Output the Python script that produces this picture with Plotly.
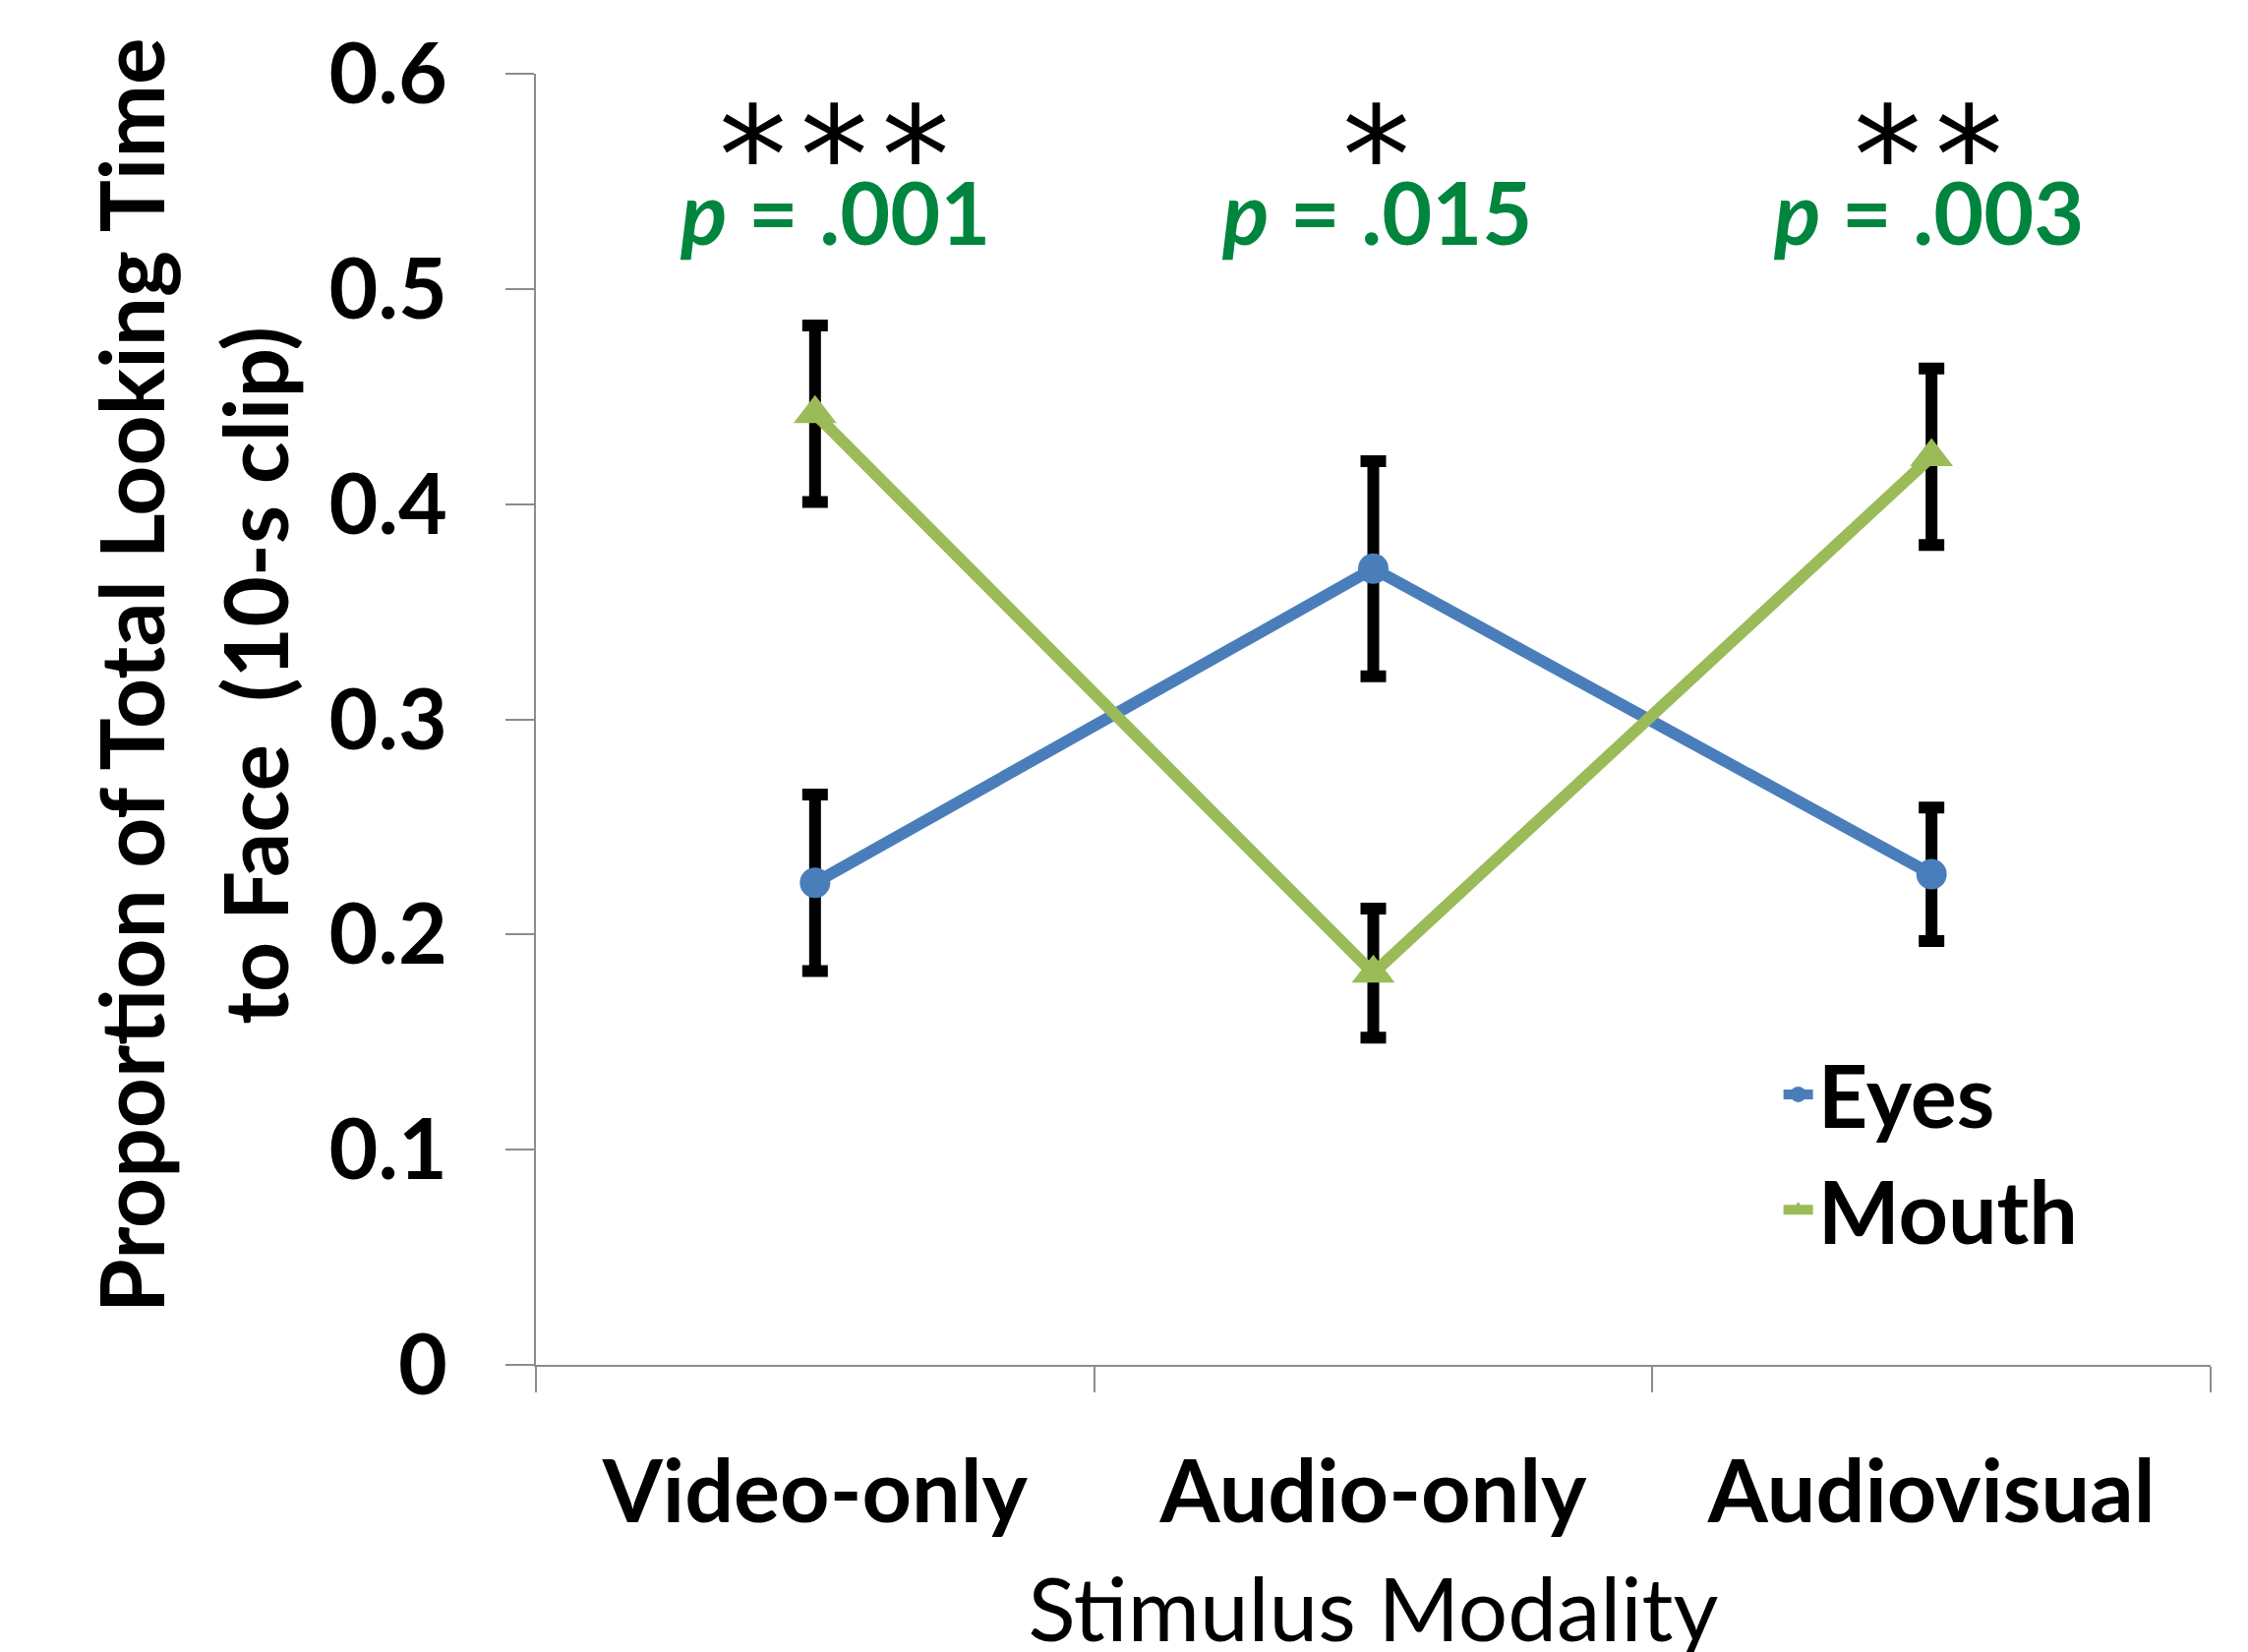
import plotly.graph_objects as go

categories = ["Video-only", "Audio-only", "Audiovisual"]
eyes = [0.224, 0.370, 0.228]
eyes_err = [0.041, 0.050, 0.031]
mouth = [0.442, 0.182, 0.422]
mouth_err = [0.041, 0.030, 0.041]
stars = ["*\u200a*\u200a*", "*", "*\u200a*"]
pvals = ["<i>p</i> = .001", "<i>p</i> = .015", "<i>p</i> = .003"]
yticks = [0, 0.1, 0.2, 0.3, 0.4, 0.5, 0.6]

BLUE = "#4A7EBB"
GREEN = "#9BBB59"
PGREEN = "#00853F"
AXIS = "#8C8C8C"
FONT = "Lato"
ann_shift = [20, 3, -3]

fig = go.Figure()

# error bars first (under the lines)
for vals, errs in [(eyes, eyes_err), (mouth, mouth_err)]:
    fig.add_trace(go.Scatter(
        x=categories, y=vals, mode="markers",
        marker=dict(opacity=0, size=1),
        error_y=dict(type="data", array=errs, visible=True,
                     color="black", thickness=12, width=13),
        showlegend=False, hoverinfo="skip"))

fig.add_trace(go.Scatter(
    x=categories, y=eyes, name="Eyes", mode="lines+markers",
    line=dict(color=BLUE, width=12),
    marker=dict(symbol="circle", size=31, color=BLUE)))
fig.add_trace(go.Scatter(
    x=categories, y=mouth, name="Mouth", mode="lines+markers",
    line=dict(color=GREEN, width=12),
    marker=dict(symbol="triangle-up", size=38, color=GREEN)))

for cat, s, p, dx in zip(categories, stars, pvals, ann_shift):
    fig.add_annotation(x=cat, y=0.562, xref="x", yref="y", text=s,
                       showarrow=False, yanchor="middle", xshift=dx,
                       font=dict(family="DejaVu Sans", size=138, color="black"))
    fig.add_annotation(x=cat, y=0.536, xref="x", yref="y", text="<b>" + p + "</b>",
                       showarrow=False, yanchor="middle", xshift=dx,
                       font=dict(family=FONT, size=88, color=PGREEN))

# y-axis title as two lines
fig.add_annotation(x=-0.2423, y=0.534, xref="paper", yref="paper",
                   text="Proportion of Total Looking Time", textangle=-90,
                   showarrow=False, xanchor="center", yanchor="middle",
                   font=dict(family=FONT, size=89, color="black", weight="bold"))
fig.add_annotation(x=-0.168, y=0.534, xref="paper", yref="paper",
                   text="to Face  (10-s clip)", textangle=-90,
                   showarrow=False, xanchor="center", yanchor="middle",
                   font=dict(family=FONT, size=89, color="black", weight="bold"))

fig.update_layout(
    width=2286, height=1680,
    margin=dict(l=537, r=46, t=62, b=300),
    paper_bgcolor="white", plot_bgcolor="white",
    showlegend=True,
    legend=dict(x=0.742, y=0.258, xanchor="left", yanchor="top",
                bgcolor="rgba(0,0,0,0)",
                font=dict(family=FONT, size=88, color="black", weight="bold"),
                itemwidth=30, tracegroupgap=0),
    xaxis=dict(
        type="category", range=[-0.5, 2.5],
        showline=True, linecolor=AXIS, linewidth=2,
        ticks="outside", tickson="boundaries", ticklen=26, tickcolor=AXIS, tickwidth=2,
        showgrid=False, zeroline=False,
        tickfont=dict(family=FONT, size=88, color="black", weight="bold"),
        ticklabelstandoff=52,
        title=dict(text="Stimulus Modality", standoff=46,
                   font=dict(family=FONT, size=89, color="black")),
    ),
    yaxis=dict(
        range=[0, 0.6], tickvals=yticks,
        showline=True, linecolor=AXIS, linewidth=2,
        ticks="outside", ticklen=29, tickcolor=AXIS, tickwidth=2,
        showgrid=False, zeroline=False,
        tickfont=dict(family=FONT, size=86, color="black", weight="bold"),
        ticklabelstandoff=42,
    ),
)

fig.write_html("out.html")
